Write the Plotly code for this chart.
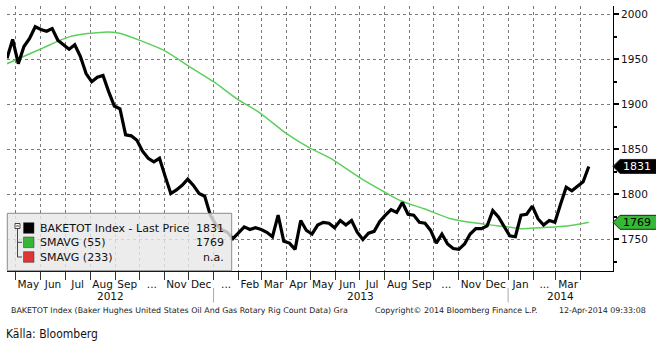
import plotly.graph_objects as go
import pandas as pd

# ---------------- data ----------------
rig_count = [1951, 1972, 1945, 1964, 1973, 1986, 1983, 1981, 1984, 1971,
             1966, 1961, 1966, 1953, 1934, 1925, 1930, 1932, 1914, 1898,
             1895, 1866, 1865, 1860, 1848, 1840, 1836, 1840, 1820, 1801,
             1805, 1810, 1817, 1810, 1801, 1798, 1777, 1766, 1761, 1758,
             1751, 1757, 1764, 1761, 1763, 1761, 1758, 1753, 1777, 1748,
             1746, 1739, 1771, 1760, 1756, 1766, 1769, 1768, 1763, 1771,
             1766, 1771, 1758, 1750, 1757, 1759, 1770, 1777, 1783, 1780,
             1791, 1778, 1777, 1769, 1768, 1760, 1746, 1756, 1745, 1740,
             1739, 1745, 1756, 1762, 1762, 1765, 1782, 1775, 1765, 1754,
             1753, 1777, 1778, 1787, 1773, 1766, 1771, 1769, 1789, 1808,
             1804, 1809, 1814, 1831]
first_week = "2012-04-20"

smavg_dates = ["2012-04-20", "2012-05-31", "2012-07-07", "2012-08-18", "2012-09-05",
               "2012-10-04", "2012-10-31", "2012-12-05", "2013-01-01", "2013-01-30",
               "2013-02-28", "2013-04-02", "2013-05-01", "2013-05-26", "2013-07-02",
               "2013-08-04", "2013-08-21", "2013-09-19", "2013-10-22", "2013-12-02",
               "2013-12-31", "2014-01-17", "2014-02-10", "2014-03-03", "2014-03-24",
               "2014-04-11"]
smavg55 = [1945, 1961, 1975, 1980, 1979, 1970, 1960, 1940, 1925, 1906,
           1890, 1867, 1851, 1840, 1818, 1801, 1793, 1784, 1773, 1767,
           1764, 1762, 1763, 1764, 1766, 1769]

month_starts = pd.date_range("2012-05-01", "2014-04-01", freq="MS")
month_labels = ["May", "Jun", "Jul", "Aug", "Sep", "...", "Nov", "Dec",
                "...", "Feb", "Mar", "Apr", "May", "Jun", "Jul", "Aug", "Sep", "...", "Nov", "Dec",
                "Jan", "...", "Mar"]
year_labels = ["2012", "2013", "2014"]
year_starts = ["2013-01-01", "2014-01-01"]

legend_names = ["BAKETOT Index - Last Price", "SMAVG (55)", "SMAVG (233)"]
legend_values = [str(rig_count[-1]), str(smavg55[-1]), "n.a."]

x_range = ["2012-04-20", "2014-05-11"]
y_range = [1715, 2009]

footer_left = "BAKETOT Index (Baker Hughes United States Oil And Gas Rotary Rig Count Data) Gra"
footer_mid = "Copyright\u00a9 2014 Bloomberg Finance L.P."
footer_right = "12-Apr-2014 09:33:08"
source_text = "K\u00e4lla: Bloomberg"

# ---------------- layout helpers ----------------
W_FIG, H_FIG = 656, 345
L, R, T, B = 7, 43, 6, 74
PW = W_FIG - L - R
PH = H_FIG - T - B
BOT = T + PH


def px(xp):
    return (xp - L) / PW


def py(yp):
    return (BOT - yp) / PH


FONT = "DejaVu Sans"
BLACK = "#000000"
GREEN_LINE = "#5ccf5c"
GREEN_TAG = "#35b835"
RED_TAG = "#e03535"
GRID = "#7a7a7a"

weeks = pd.date_range(first_week, periods=len(rig_count), freq="7D")

fig = go.Figure()
fig.add_trace(go.Scatter(x=pd.to_datetime(smavg_dates), y=smavg55, mode="lines",
                         line=dict(color=GREEN_LINE, width=1.5, shape="spline", smoothing=0.8),
                         hoverinfo="skip", showlegend=False))
fig.add_trace(go.Scatter(x=weeks, y=rig_count, mode="lines",
                         line=dict(color=BLACK, width=3.2), hoverinfo="skip", showlegend=False))

# month label positions (mid-month)
ends = list(month_starts[1:])
mid_months = [s + (e - s) / 2 for s, e in zip(month_starts[:-1], ends)]

fig.update_layout(
    width=W_FIG, height=H_FIG,
    margin=dict(l=L, r=R, t=T, b=B),
    paper_bgcolor="white", plot_bgcolor="white",
    showlegend=False,
    xaxis=dict(
        type="date", range=x_range,
        tickmode="array", tickvals=mid_months, ticktext=month_labels,
        ticks="", showgrid=False, zeroline=False,
        showline=True, linecolor=BLACK, linewidth=1,
        tickfont=dict(family=FONT, size=10.5, color="#111"),
        ticklabelstandoff=3,
        minor=dict(tickmode="array", tickvals=list(month_starts),
                   showgrid=True, gridcolor=GRID, griddash="dot", gridwidth=1,
                   ticks="outside", ticklen=8, tickcolor="#333", tickwidth=1),
    ),
    yaxis=dict(
        range=y_range, side="right",
        tickmode="linear", tick0=1750, dtick=50,
        showgrid=True, gridcolor=GRID, griddash="dot", gridwidth=1,
        zeroline=False,
        showline=True, linecolor=BLACK, linewidth=1,
        ticks="outside", ticklen=5, tickwidth=2, tickcolor=BLACK,
        tickfont=dict(family=FONT, size=10.5, color="#111"),
        minor=dict(dtick=25, tick0=1725, ticks="outside", ticklen=3, tickcolor=BLACK, showgrid=False),
    ),
)

shapes = []
annots = []

# ---- value tags on the right axis ----
for val, fill, txtcol in [(rig_count[-1], BLACK, "white"), (smavg55[-1], GREEN_TAG, BLACK)]:
    yp = (val - y_range[0]) / (y_range[1] - y_range[0])
    shapes.append(dict(type="path", xref="paper", yref="paper",
                       xsizemode="pixel", ysizemode="pixel", xanchor=1, yanchor=yp,
                       path="M0,0 L7,7 L44,7 L44,-7 L7,-7 Z",
                       fillcolor=fill, line=dict(color="#222", width=1), layer="above"))
    annots.append(dict(x=1, xref="paper", y=val, yref="y", xanchor="left", yanchor="middle",
                       xshift=8, text=str(val), showarrow=False,
                       font=dict(family=FONT, size=11, color=txtcol)))

# ---- legend box ----
shapes.append(dict(type="rect", xref="paper", yref="paper",
                   x0=px(7.3), x1=px(231.7), y0=py(270.7), y1=py(213.3),
                   fillcolor="rgba(232,232,232,0.82)", line=dict(color="#8c8c8c", width=1),
                   layer="above"))
row_y = [228, 242.3, 257]
sq_colors = [BLACK, GREEN_TAG, RED_TAG]
for ry, c, name, v in zip(row_y, sq_colors, legend_names, legend_values):
    shapes.append(dict(type="rect", xref="paper", yref="paper",
                       x0=px(23.5), x1=px(34), y0=py(ry + 5.3), y1=py(ry - 5.3),
                       fillcolor=c, line=dict(color="#333", width=0.5), layer="above"))
    annots.append(dict(x=px(38), xref="paper", y=py(ry), yref="paper", xanchor="left",
                       yanchor="middle", text=name, showarrow=False,
                       font=dict(family=FONT, size=11, color="#111")))
    annots.append(dict(x=px(226), xref="paper", y=py(ry), yref="paper", xanchor="right",
                       yanchor="middle", text=v, showarrow=False,
                       font=dict(family=FONT, size=11, color="#111")))
# tree icon
shapes.append(dict(type="rect", xref="paper", yref="paper", x0=px(15), x1=px(20),
                   y0=py(228.5), y1=py(223.5), fillcolor="white",
                   line=dict(color="#444", width=1), layer="above"))
shapes.append(dict(type="line", xref="paper", yref="paper", x0=px(16), x1=px(19),
                   y0=py(226), y1=py(226), line=dict(color="#444", width=1), layer="above"))
shapes.append(dict(type="line", xref="paper", yref="paper", x0=px(17.5), x1=px(17.5),
                   y0=py(228.5), y1=py(257), line=dict(color="#444", width=1), layer="above"))
for ry in row_y[1:]:
    shapes.append(dict(type="line", xref="paper", yref="paper", x0=px(17.5), x1=px(22),
                       y0=py(ry), y1=py(ry), line=dict(color="#444", width=1), layer="above"))

# ---- year separators and labels ----
for ys in year_starts:
    shapes.append(dict(type="line", xref="x", yref="paper", x0=ys, x1=ys,
                       y0=py(288), y1=py(302.5), line=dict(color="#aaaaaa", width=1)))
bounds = [pd.Timestamp(x_range[0])] + [pd.Timestamp(s) for s in year_starts] + [pd.Timestamp(x_range[1])]
for lab, a, b in zip(year_labels, bounds[:-1], bounds[1:]):
    annots.append(dict(x=a + (b - a) / 2, xref="x", y=py(296), yref="paper",
                       xanchor="center", yanchor="middle", text=lab, showarrow=False,
                       font=dict(family=FONT, size=10.5, color="#111")))

# ---- footer ----
FOOT = 7.9
annots.append(dict(x=px(9), xref="paper", y=py(310.7), yref="paper", xanchor="left",
                   yanchor="middle", text=footer_left, showarrow=False,
                   font=dict(family=FONT, size=FOOT, color="#222")))
annots.append(dict(x=px(373), xref="paper", y=py(310.7), yref="paper", xanchor="left",
                   yanchor="middle", text=footer_mid, showarrow=False,
                   font=dict(family=FONT, size=FOOT, color="#222")))
annots.append(dict(x=px(648), xref="paper", y=py(310.7), yref="paper", xanchor="right",
                   yanchor="middle", text=footer_right, showarrow=False,
                   font=dict(family=FONT, size=FOOT, color="#222")))
annots.append(dict(x=px(4), xref="paper", y=py(333.5), yref="paper", xanchor="left",
                   yanchor="middle", text=source_text, showarrow=False,
                   font=dict(family="DejaVu Sans Condensed, Liberation Sans", size=12, color="#111")))

fig.update_layout(shapes=shapes, annotations=annots)
fig.write_html("out.html")
